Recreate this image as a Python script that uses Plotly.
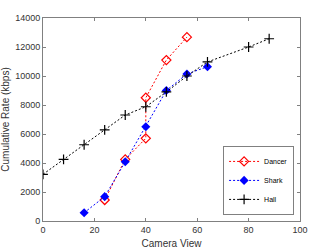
import plotly.graph_objects as go

dancer_x = [24, 32, 40, 40, 48, 56]
dancer_y = [1450, 4250, 5700, 8500, 11100, 12680]
shark_x = [16, 24, 32, 40, 48, 56, 64]
shark_y = [570, 1680, 4090, 6500, 9000, 10140, 10640]
hall_x = [0, 8, 16, 24, 32, 40, 48, 56, 64, 80, 88]
hall_y = [3220, 4250, 5260, 6280, 7310, 7880, 8900, 10000, 10970, 12000, 12570]

DASH = "2px,2px"
fig = go.Figure()
fig.add_trace(go.Scatter(x=dancer_x, y=dancer_y, name="Dancer", mode="lines+markers",
                         line=dict(color="#ff0000", width=1, dash=DASH),
                         marker=dict(symbol="diamond-open", size=7, color="#ff0000", line=dict(width=1.2))))
fig.add_trace(go.Scatter(x=shark_x, y=shark_y, name="Shark", mode="lines+markers",
                         line=dict(color="#0000ff", width=1, dash=DASH),
                         marker=dict(symbol="diamond", size=7, color="#0000ff")))
fig.add_trace(go.Scatter(x=hall_x, y=hall_y, name="Hall", mode="lines+markers",
                         line=dict(color="#000000", width=1, dash=DASH),
                         marker=dict(symbol="cross-thin", size=7, color="#000000", line=dict(width=1.2, color="#000000"))))

axis_common = dict(showgrid=False, zeroline=False, showline=True, linecolor="#808080", linewidth=1,
                   mirror="ticks", ticks="inside", ticklen=3, tickcolor="#808080", automargin=False,
                   tickfont=dict(size=9, color="#333333"))
fig.update_xaxes(range=[0, 100], dtick=20, tickformat="d",
                 title=dict(text="Camera View", font=dict(size=10, color="#333333")), **axis_common)
fig.update_yaxes(range=[0, 14000], dtick=2000, tickformat="d",
                 title=dict(text="Cumulative Rate (kbps)", font=dict(size=10, color="#333333")), **axis_common)

fig.update_layout(
    width=332, height=249,
    margin=dict(l=43, r=32, t=18, b=28, autoexpand=False),
    paper_bgcolor="white", plot_bgcolor="white",
    font=dict(family="Liberation Sans, Arial, sans-serif", size=9, color="#333333"),
    legend=dict(x=0.977, y=0.03, xanchor="right", yanchor="bottom",
                bgcolor="white", bordercolor="#808080", borderwidth=1,
                font=dict(size=7, color="#000000"), tracegroupgap=0, itemwidth=30),
    showlegend=True,
)
fig.write_html("out.html", config={"displayModeBar": False},
               post_script="document.body.style.margin='0';document.body.style.overflow='hidden';")
